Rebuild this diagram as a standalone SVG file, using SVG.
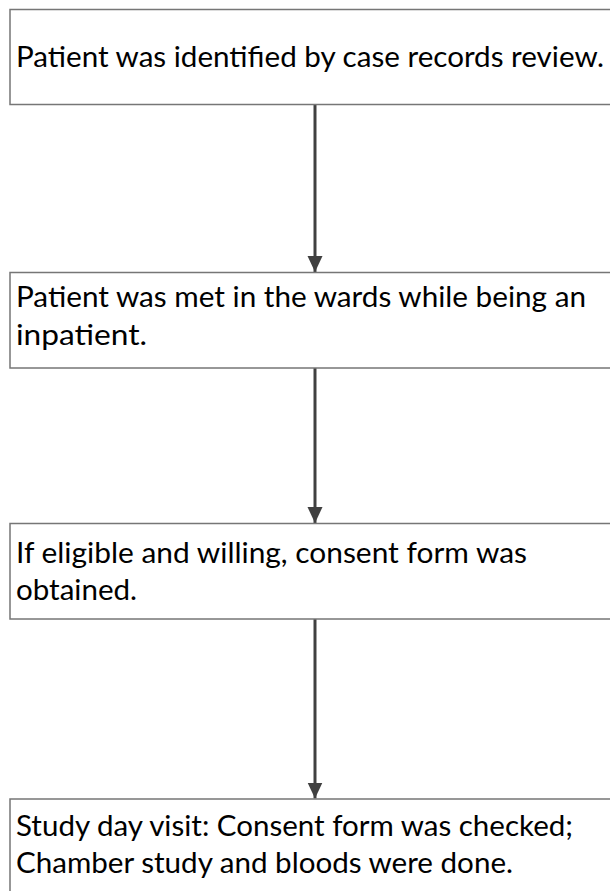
<svg xmlns="http://www.w3.org/2000/svg" width="610" height="891" viewBox="0 0 610 891">
  <style>
    .box { fill: #ffffff; stroke: #767676; stroke-width: 1.5; }
    .lbl { font-family: Lato, "Open Sans", "Liberation Sans", sans-serif; font-size: 29px; fill: #000000; }
    .conn { stroke: #404040; stroke-width: 3; fill: none; }
  </style>
  <defs>
    <marker id="arrow" markerUnits="userSpaceOnUse" markerWidth="18" markerHeight="18" refX="16" refY="8" orient="auto">
      <path d="M0,0.5 L16,8 L0,15.5 Z" fill="#404040"/>
    </marker>
  </defs>
  <rect width="610" height="891" fill="#ffffff"/>
  <g id="connectors">
    <line class="conn" x1="315" y1="104.5" x2="315" y2="272" marker-end="url(#arrow)"/>
    <line class="conn" x1="315" y1="368" x2="315" y2="523" marker-end="url(#arrow)"/>
    <line class="conn" x1="315" y1="619" x2="315" y2="798.5" marker-end="url(#arrow)"/>
  </g>
  <g id="node1">
    <rect class="box" x="10" y="9.5" width="605" height="95"/>
    <text class="lbl" x="16" y="67" textLength="588" lengthAdjust="spacingAndGlyphs">Patient was identified by case records review.</text>
  </g>
  <g id="node2">
    <rect class="box" x="10" y="272.5" width="605" height="95.5"/>
    <text class="lbl" x="16" y="307" textLength="570" lengthAdjust="spacingAndGlyphs">Patient was met in the wards while being an</text>
    <text class="lbl" x="16" y="345" textLength="131" lengthAdjust="spacingAndGlyphs">inpatient.</text>
  </g>
  <g id="node3">
    <rect class="box" x="10" y="523.5" width="605" height="95.5"/>
    <text class="lbl" x="16" y="563" textLength="511" lengthAdjust="spacingAndGlyphs">If eligible and willing, consent form was</text>
    <text class="lbl" x="16" y="600" textLength="121" lengthAdjust="spacingAndGlyphs">obtained.</text>
  </g>
  <g id="node4">
    <rect class="box" x="10" y="799" width="605" height="100"/>
    <text class="lbl" x="16" y="836" textLength="557" lengthAdjust="spacingAndGlyphs">Study day visit: Consent form was checked;</text>
    <text class="lbl" x="16" y="873" textLength="497" lengthAdjust="spacingAndGlyphs">Chamber study and bloods were done.</text>
  </g>
</svg>
